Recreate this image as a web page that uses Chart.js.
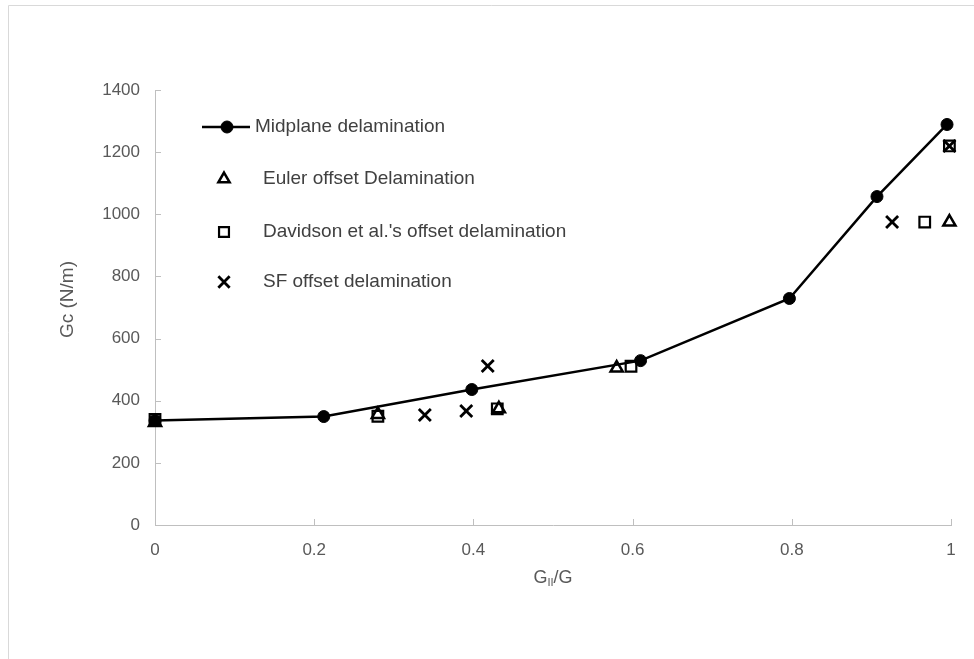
<!DOCTYPE html>
<html>
<head>
<meta charset="utf-8">
<title>Gc vs GII/G</title>
<script src="https://cdn.jsdelivr.net/npm/chart.js@4.4.1/dist/chart.umd.min.js"></script>
<style>
  html, body { margin: 0; padding: 0; background: #fff; }
  #wrap { width: 974px; height: 659px; position: relative; }
</style>
</head>
<body>
<div id="wrap"><canvas id="chart" width="974" height="659"></canvas></div>
<script>
// ── DATA ──────────────────────────────────
const midplaneX = [0, 0.212, 0.398, 0.61, 0.797, 0.907, 0.995];
const midplaneY = [336, 349, 436, 529, 729, 1057, 1289];

const eulerX = [0, 0.28, 0.432, 0.58, 0.998];
const eulerY = [330, 356, 374, 505, 975];

const davidsonX = [0, 0.28, 0.43, 0.598, 0.967, 0.998];
const davidsonY = [340, 350, 374, 511, 975, 1220];

const sfX = [0.339, 0.391, 0.418, 0.926, 0.998];
const sfY = [354, 367, 512, 975, 1220];

const seriesNames = [
  'Midplane delamination',
  'Euler offset Delamination',
  "Davidson et al.'s offset delamination",
  'SF offset delamination'
];

const xTicks = [0, 0.2, 0.4, 0.6, 0.8, 1];
const yTicks = [0, 200, 400, 600, 800, 1000, 1200, 1400];

const FONT = '"Liberation Sans", Arial, sans-serif';
const AXIS_GRAY = '#bfbfbf';
const LABEL_GRAY = '#595959';

function toPoints(xs, ys) {
  return xs.map((x, i) => ({ x: x, y: ys[i] }));
}

// ── PLUGIN: frame, inner ticks, titles, legend ──
const decor = {
  id: 'decor',
  beforeDraw(chart) {
    const ctx = chart.ctx;
    ctx.save();
    ctx.strokeStyle = '#d9d9d9';
    ctx.lineWidth = 1;
    ctx.beginPath();
    ctx.moveTo(8.5, 659);
    ctx.lineTo(8.5, 5.5);
    ctx.lineTo(974, 5.5);
    ctx.stroke();
    ctx.restore();
  },
  afterDraw(chart) {
    const ctx = chart.ctx;
    const xs = chart.scales.x;
    const ys = chart.scales.y;
    const area = chart.chartArea;
    ctx.save();

    // inside tick marks
    ctx.strokeStyle = AXIS_GRAY;
    ctx.lineWidth = 1;
    ctx.beginPath();
    xTicks.forEach(v => {
      const px = Math.round(xs.getPixelForValue(v)) + 0.5;
      ctx.moveTo(px, area.bottom);
      ctx.lineTo(px, area.bottom - 6);
    });
    yTicks.forEach(v => {
      const py = Math.round(ys.getPixelForValue(v)) + 0.5;
      ctx.moveTo(area.left, py);
      ctx.lineTo(area.left + 6, py);
    });
    ctx.stroke();

    // axis titles
    ctx.fillStyle = LABEL_GRAY;
    ctx.textBaseline = 'middle';
    // x title: G_II/G
    const cx = (area.left + area.right) / 2;
    const ty = 578;
    ctx.font = '18px ' + FONT;
    const wG = ctx.measureText('G').width;
    const wRest = ctx.measureText('/G').width;
    ctx.font = '11px ' + FONT;
    const wSub = ctx.measureText('II').width;
    const total = wG + wSub + wRest;
    const x0 = cx - total / 2;
    ctx.textAlign = 'left';
    ctx.font = '18px ' + FONT;
    ctx.fillText('G', x0, ty);
    ctx.font = '11px ' + FONT;
    ctx.fillText('II', x0 + wG, ty + 5);
    ctx.font = '18px ' + FONT;
    ctx.fillText('/G', x0 + wG + wSub, ty);

    // y title
    ctx.save();
    ctx.translate(68, (area.top + area.bottom) / 2 - 8);
    ctx.rotate(-Math.PI / 2);
    ctx.textAlign = 'center';
    ctx.font = '19px ' + FONT;
    ctx.fillText('Gc (N/m)', 0, 0);
    ctx.restore();

    // legend
    const rows = [127, 179, 232, 282];
    ctx.textAlign = 'left';
    chart.data.datasets.forEach((ds, i) => {
      const y = rows[i];
      ctx.strokeStyle = '#000';
      if (i === 0) {
        ctx.lineWidth = 2.5;
        ctx.beginPath();
        ctx.moveTo(202, y);
        ctx.lineTo(250, y);
        ctx.stroke();
        ctx.fillStyle = '#000';
        ctx.lineWidth = 1;
        Chart.helpers.drawPoint(ctx, { pointStyle: 'circle', radius: 6, borderWidth: 1, rotation: 0 }, 227, y);
      } else {
        ctx.fillStyle = '#fff';
        ctx.lineWidth = ds.pointBorderWidth;
        Chart.helpers.drawPoint(ctx, { pointStyle: ds.pointStyle, radius: ds.pointRadius - 0.5, borderWidth: ds.pointBorderWidth, rotation: 0 }, 224, y);
      }
      ctx.fillStyle = '#404040';
      ctx.font = '19px ' + FONT;
      ctx.fillText(seriesNames[i], i === 0 ? 255 : 263, y);
    });

    ctx.restore();
  }
};

// ── CHART ─────────────────────────────────
new Chart(document.getElementById('chart'), {
  type: 'scatter',
  data: {
    datasets: [
      {
        label: seriesNames[0],
        data: toPoints(midplaneX, midplaneY),
        showLine: true,
        borderColor: '#000',
        borderWidth: 2.5,
        backgroundColor: '#000',
        pointStyle: 'circle',
        pointRadius: 6,
        pointBackgroundColor: '#000',
        pointBorderColor: '#000',
        pointBorderWidth: 1,
        clip: false
      },
      {
        label: seriesNames[1],
        data: toPoints(eulerX, eulerY),
        showLine: false,
        pointStyle: 'triangle',
        pointRadius: 7,
        pointBackgroundColor: 'rgba(255,255,255,0)',
        pointBorderColor: '#000',
        pointBorderWidth: 2.5,
        clip: false
      },
      {
        label: seriesNames[2],
        data: toPoints(davidsonX, davidsonY),
        showLine: false,
        pointStyle: 'rect',
        pointRadius: 7.5,
        pointBackgroundColor: 'rgba(255,255,255,0)',
        pointBorderColor: '#000',
        pointBorderWidth: 2.2,
        clip: false
      },
      {
        label: seriesNames[3],
        data: toPoints(sfX, sfY),
        showLine: false,
        pointStyle: 'crossRot',
        pointRadius: 8.5,
        pointBorderColor: '#000',
        pointBorderWidth: 2.8,
        clip: false
      }
    ]
  },
  options: {
    responsive: false,
    devicePixelRatio: 1,
    animation: false,
    layout: { padding: { top: 90, right: 23, left: 0, bottom: 0 } },
    plugins: {
      legend: { display: false },
      tooltip: { enabled: false }
    },
    scales: {
      x: {
        type: 'linear',
        min: 0,
        max: 1,
        afterBuildTicks: s => { s.ticks = xTicks.map(v => ({ value: v })); },
        afterFit: s => { s.height = 134; },
        grid: { display: false, drawTicks: false },
        border: { display: true, color: AXIS_GRAY, width: 1 },
        ticks: {
          color: LABEL_GRAY,
          font: { family: FONT, size: 17 },
          padding: 15,
          maxRotation: 0,
          callback: v => String(Math.round(v * 10) / 10)
        }
      },
      y: {
        type: 'linear',
        min: 0,
        max: 1400,
        afterBuildTicks: s => { s.ticks = yTicks.map(v => ({ value: v })); },
        afterFit: s => { s.width = 155; },
        grid: { display: false, drawTicks: false },
        border: { display: true, color: AXIS_GRAY, width: 1 },
        ticks: {
          color: LABEL_GRAY,
          font: { family: FONT, size: 17 },
          padding: 15,
          callback: v => String(v)
        }
      }
    }
  },
  plugins: [decor]
});
</script>
</body>
</html>
